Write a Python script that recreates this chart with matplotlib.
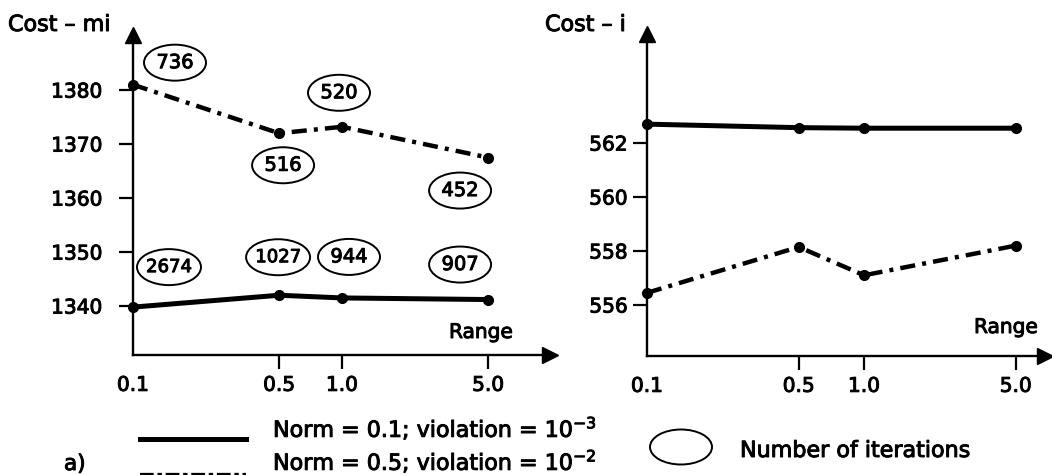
import matplotlib.pyplot as plt
import matplotlib.patheffects as pe
from matplotlib.lines import Line2D
from matplotlib.patches import Ellipse
from matplotlib.text import Text
from matplotlib.ticker import NullLocator
from matplotlib.transforms import ScaledTranslation

plt.rcParams["font.family"] = ["DejaVu Sans"]
plt.rcParams["mathtext.fontset"] = "dejavusans"

# %%
# values
ranges = [0.1, 0.5, 1.0, 5.0]
range_labels = ["0.1", "0.5", "1.0", "5.0"]

# cost - mi (left panel)
mi_norm01 = [1339.8, 1342.0, 1341.5, 1341.2]
mi_norm05 = [1381.0, 1372.0, 1373.2, 1367.5]
mi_iters01 = [2674, 1027, 944, 907]
mi_iters05 = [736, 516, 520, 452]
mi_yticks = [1340, 1350, 1360, 1370, 1380]

# cost - i (right panel)
i_norm01 = [562.70, 562.57, 562.55, 562.55]
i_norm05 = [556.45, 558.15, 557.1, 558.2]
i_yticks = [556, 558, 560, 562]

legend_labels = [
    r"Norm = 0.1; violation = $10^{-3}$",
    r"Norm = 0.5; violation = $10^{-2}$",
]

# label offsets from the points (pixels, up is +)
off05 = [(42, 22), (4, -32), (-3, 34), (-28, -33)]
off01 = [(36, 40), (-1, 38), (7, 41), (-28, 35)]

W, H = 1052, 475


def px(x, y):
    # pixel position (from top-left) -> figure fraction
    return x / W, (H - y) / H


def box(x0, y0, x1, y1):
    return [x0 / W, (H - y1) / H, (x1 - x0) / W, (y1 - y0) / H]


def setup(ax, xmax, ylim, yticks, ypad):
    ax.set_xscale("log")
    ax.set_xlim(0.1, xmax)
    ax.set_ylim(*ylim)
    ax.spines[["top", "right"]].set_visible(False)
    ax.spines[["left", "bottom"]].set_linewidth(1.7)
    ax.set_xticks(ranges, range_labels)
    ax.xaxis.set_minor_locator(NullLocator())
    ax.set_yticks(yticks)
    ax.tick_params(length=10, width=1.6, labelsize=14.5, direction="out")
    ax.tick_params(axis="x", pad=5)
    ax.tick_params(axis="y", pad=ypad)
    ax.xaxis.get_major_ticks()[0].tick1line.set_visible(False)
    ax.plot(1, 0, ">k", ms=12, transform=ax.transAxes, clip_on=False)
    ax.plot(0, 1, "^k", ms=12, transform=ax.transAxes, clip_on=False)
    ax.patch.set_visible(False)


def dashdot(ax, y):
    ax.plot(ranges, y, color="k", lw=3.2, dashes=(3.4, 1.6, 0.9, 1.6),
            marker="o", ms=7, clip_on=False)


def solid(ax, y):
    ax.plot(ranges, y, color="k", lw=3.6, marker="o", ms=7, clip_on=False)


def iter_labels(ax, y, iters, offs):
    for x, yy, n, (dx, dy) in zip(ranges, y, iters, offs):
        txt = str(n)
        fs = 14 if len(txt) < 4 else 13
        w = 62 if len(txt) < 4 else 64
        ax.annotate(txt, (x, yy), xytext=(dx, dy), textcoords="offset pixels",
                    ha="center", va="center", fontsize=fs)
        # fixed size ellipse around the number, in pixels
        tr = ScaledTranslation(x, yy, ax.transData)
        ax.add_patch(Ellipse((dx, dy), w, 36, fill=False, lw=1.4, ec="k",
                             transform=tr, clip_on=False))


fig = plt.figure(figsize=(W / 100, H / 100), dpi=100)

# left panel
ax1 = fig.add_axes(box(133, 35, 550, 355))
setup(ax1, 9.89, (1330.93, 1390.2), mi_yticks, 12)
solid(ax1, mi_norm01)
dashdot(ax1, mi_norm05)
iter_labels(ax1, mi_norm05, mi_iters05, off05)
iter_labels(ax1, mi_norm01, mi_iters01, off01)

# right panel
ax2 = fig.add_axes(box(647, 34, 1045, 356))
setup(ax2, 6.82, (554.11, 566.04), i_yticks, 4)
solid(ax2, i_norm01)
dashdot(ax2, i_norm05)

# axis titles
fig.text(*px(8, 31), "Cost – mi", fontsize=16, va="baseline")
fig.text(*px(545, 31), "Cost – i", fontsize=16, va="baseline")
fig.text(*px(513, 338), "Range", fontsize=14.5, ha="right", va="baseline")
fig.text(*px(1038, 333), "Range", fontsize=14.5, ha="right", va="baseline")

# legend
fig.add_artist(Line2D([140 / W, 246 / W], [px(0, 439)[1]] * 2, color="k", lw=3.6,
                      transform=fig.transFigure))
fig.add_artist(Line2D([140 / W, 246 / W], [px(0, 476)[1]] * 2, color="k", lw=4.5,
                      dashes=(2.2, 0.6, 0.7, 0.6), transform=fig.transFigure))
fig.text(*px(273, 437), legend_labels[0], fontsize=16, va="baseline")
fig.text(*px(273, 470), legend_labels[1], fontsize=16, va="baseline")
fig.text(*px(64, 470), "a)", fontsize=15.5, va="baseline")
fig.add_artist(Ellipse(px(681, 447), 62 / W, 35 / H, fill=False, lw=1.4,
                       transform=fig.transFigure))
fig.text(*px(740, 457), "Number of iterations", fontsize=16, va="baseline")

# scanned text looks heavier, thicken it a bit
for t in fig.findobj(Text):
    t.set_path_effects([pe.withStroke(linewidth=0.7, foreground="k")])

fig.savefig("out.png", dpi=100)
